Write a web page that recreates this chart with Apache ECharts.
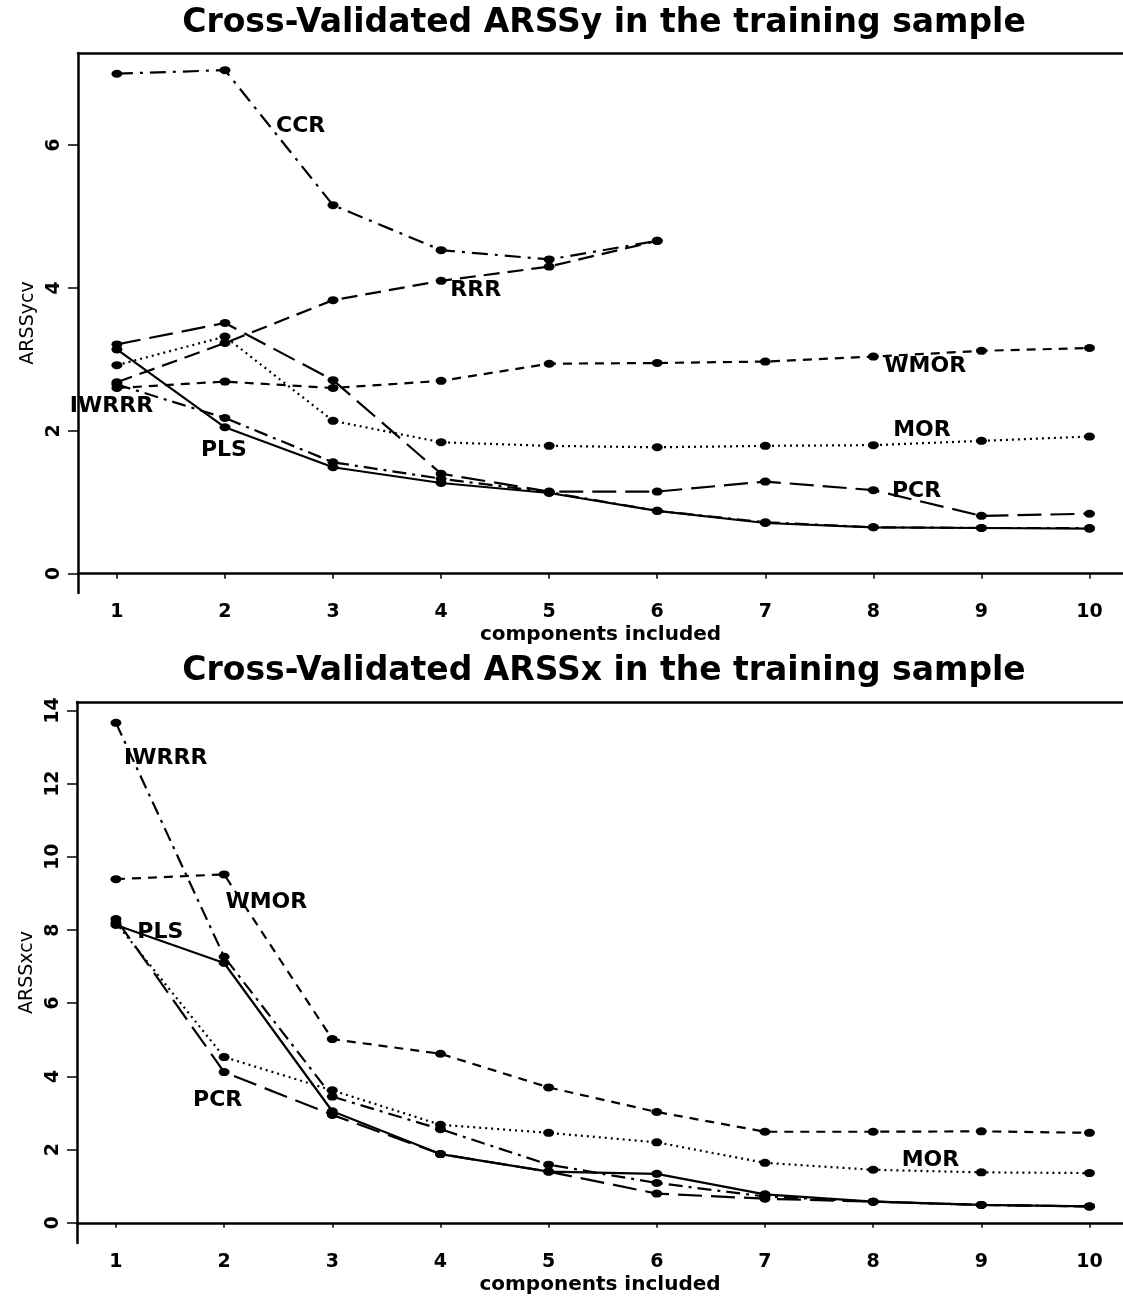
<!DOCTYPE html>
<html>
<head>
<meta charset="utf-8">
<script src="https://cdn.jsdelivr.net/npm/echarts@6/dist/echarts.min.js"></script>
<style>
  html, body { margin: 0; padding: 0; background: #fff; }
  #main { width: 1123px; height: 1297px; }
</style>
</head>
<body>
<div id="main"></div>
<script>
// components included (x)
var components = [1, 2, 3, 4, 5, 6, 7, 8, 9, 10];
var yTicksTop = [0, 2, 4, 6];
var yTicksBottom = [0, 2, 4, 6, 8, 10, 12, 14];

// ARSSy cv (top panel)
var plsY   = [3.14, 2.05, 1.49, 1.27, 1.13, 0.88, 0.71, 0.65, 0.64, 0.63];
var iwrrrY = [2.65, 2.18, 1.56, 1.33, 1.14, 0.88, 0.72, 0.65, 0.64, 0.64];
var pcrY   = [3.21, 3.51, 2.71, 1.40, 1.15, 1.15, 1.29, 1.17, 0.81, 0.84];
var rrrY   = [2.68, 3.23, 3.83, 4.10, 4.30, 4.66];
var ccrY   = [7.00, 7.05, 5.16, 4.53, 4.40, 4.66];
var wmorY  = [2.60, 2.69, 2.60, 2.70, 2.94, 2.95, 2.97, 3.04, 3.12, 3.16];
var morY   = [2.92, 3.32, 2.14, 1.84, 1.79, 1.77, 1.79, 1.80, 1.86, 1.92];

// ARSSx cv (bottom panel)
var plsX   = [8.14, 7.10, 3.05, 1.88, 1.40, 1.34, 0.78, 0.58, 0.49, 0.45];
var iwrrrX = [13.66, 7.27, 3.45, 2.56, 1.59, 1.09, 0.72, 0.58, 0.49, 0.45];
var pcrX   = [8.30, 4.12, 2.95, 1.88, 1.40, 0.80, 0.66, 0.58, 0.49, 0.45];
var morX   = [8.20, 4.53, 3.62, 2.68, 2.46, 2.20, 1.64, 1.45, 1.38, 1.36];
var wmorX  = [9.39, 9.52, 5.02, 4.62, 3.70, 3.03, 2.49, 2.49, 2.50, 2.46];

// curve labels (data units)
var topLabelNames = ['CCR', 'RRR', 'WMOR', 'MOR', 'PCR', 'IWRRR', 'PLS'];
var topLabelX     = [2.70, 4.32, 8.48, 8.45, 8.40, 0.95, 1.99];
var topLabelY     = [6.27, 3.97, 2.90, 2.01, 1.16, 2.35, 1.73];
var botLabelNames = ['IWRRR', 'WMOR', 'PLS', 'PCR', 'MOR'];
var botLabelX     = [1.46, 2.39, 1.41, 1.94, 8.53];
var botLabelY     = [12.70, 8.76, 7.94, 3.34, 1.70];

var titles = [
  'Cross-Validated ARSSy in the training sample',
  'Cross-Validated ARSSx in the training sample'
];

var dashes = {
  PLS: 'solid',
  PCR: [24, 9],
  RRR: [16, 8],
  WMOR: [9, 7],
  MOR: [2, 4],
  IWRRR: [14, 6, 3, 6],
  CCR: [16, 7, 3, 7]
};

var FONT = '"DejaVu Sans", "Liberation Sans", Arial, sans-serif';

function pairs(vals) {
  return vals.map(function (v, i) { return [components[i], v]; });
}

function line(name, vals, grid) {
  return {
    name: name,
    type: 'line',
    xAxisIndex: grid * 2,
    yAxisIndex: grid,
    data: pairs(vals),
    symbol: 'circle',
    symbolSize: [11, 8],
    color: '#000',
    itemStyle: { color: '#000' },
    lineStyle: { color: '#000', width: 2.2, type: dashes[name] },
    silent: true,
    animation: false
  };
}

function labels(names, xs, ys, grid) {
  return {
    type: 'scatter',
    xAxisIndex: grid * 2,
    yAxisIndex: grid,
    data: names.map(function (n, i) { return [xs[i], ys[i], n]; }),
    symbolSize: 0,
    itemStyle: { color: '#000', opacity: 1 },
    label: {
      show: true,
      position: 'inside',
      formatter: function (p) { return p.value[2]; },
      color: '#000',
      opacity: 1,
      textBorderWidth: 0,
      fontSize: 22,
      fontWeight: 'bold',
      fontFamily: FONT
    },
    z: 5,
    silent: true,
    animation: false
  };
}

function xAxes(grid) {
  return [{
    type: 'value',
    gridIndex: grid,
    min: 0.64,
    max: 10.31,
    name: 'components included',
    nameLocation: 'middle',
    nameGap: 32,
    nameTextStyle: { color: '#000', fontSize: 20, fontWeight: 'bold', fontFamily: FONT },
    axisLine: { show: true, lineStyle: { color: '#000', width: 2.5 } },
    axisTick: { show: true, customValues: components, length: 5, lineStyle: { color: '#000', width: 1.5 } },
    axisLabel: { customValues: components, color: '#000', fontSize: 19, fontWeight: 'bold', fontFamily: FONT, margin: 10 },
    splitLine: { show: false }
  }, {
    type: 'value',
    gridIndex: grid,
    position: 'top',
    min: 0.64,
    max: 10.31,
    axisLine: { show: true, lineStyle: { color: '#000', width: 2.5 } },
    axisTick: { show: false },
    axisLabel: { show: false },
    splitLine: { show: false }
  }];
}

function yAxis(grid, min, max, ticks, name) {
  return {
    type: 'value',
    gridIndex: grid,
    min: min,
    max: max,
    name: name,
    nameLocation: 'middle',
    nameGap: 36,
    nameTextStyle: { color: '#000', fontSize: 19, fontFamily: FONT },
    axisLine: { show: true, lineStyle: { color: '#000', width: 2.5 } },
    axisTick: { show: true, customValues: ticks, length: 10, lineStyle: { color: '#000', width: 1.5 } },
    axisLabel: { customValues: ticks, rotate: 90, color: '#000', fontSize: 19, fontWeight: 'bold', fontFamily: FONT, margin: 14 },
    splitLine: { show: false }
  };
}

var chart = echarts.init(document.getElementById('main'));

var option = {
  backgroundColor: '#fff',
  animation: false,
  graphic: [{
    type: 'text',
    x: 604,
    y: 23,
    style: { text: titles[0], fill: '#000', font: 'bold 33px ' + FONT, align: 'center', verticalAlign: 'middle' }
  }, {
    type: 'text',
    x: 604,
    y: 671,
    style: { text: titles[1], fill: '#000', font: 'bold 33px ' + FONT, align: 'center', verticalAlign: 'middle' }
  }],
  grid: [
    { left: 78, top: 53, right: 0, height: 540 },
    { left: 77, top: 702, right: 0, height: 541 }
  ],
  xAxis: xAxes(0).concat(xAxes(1)),
  yAxis: [
    yAxis(0, -0.27, 7.29, yTicksTop, 'ARSSycv'),
    yAxis(1, -0.55, 14.23, yTicksBottom, 'ARSSxcv')
  ],
  series: [
    line('CCR', ccrY, 0),
    line('RRR', rrrY, 0),
    line('WMOR', wmorY, 0),
    line('MOR', morY, 0),
    line('PCR', pcrY, 0),
    line('IWRRR', iwrrrY, 0),
    line('PLS', plsY, 0),
    labels(topLabelNames, topLabelX, topLabelY, 0),
    line('IWRRR', iwrrrX, 1),
    line('WMOR', wmorX, 1),
    line('MOR', morX, 1),
    line('PCR', pcrX, 1),
    line('PLS', plsX, 1),
    labels(botLabelNames, botLabelX, botLabelY, 1)
  ]
};

chart.setOption(option);
</script>
</body>
</html>
